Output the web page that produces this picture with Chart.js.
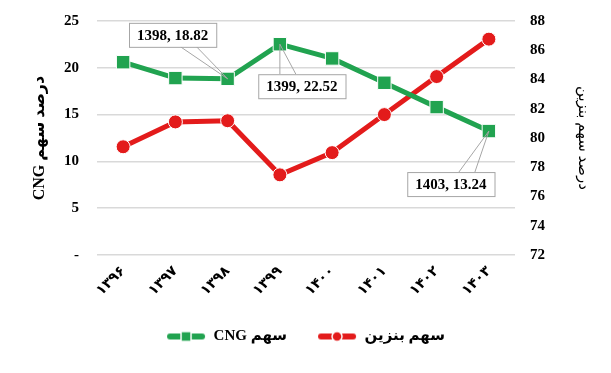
<!DOCTYPE html>
<html>
<head>
<meta charset="utf-8">
<script src="https://cdn.jsdelivr.net/npm/chart.js@4"></script>
<style>
  html, body { margin: 0; padding: 0; background: #fff; }
  #wrap { width: 611px; height: 373px; }
  #chart { direction: rtl; }
</style>
</head>
<body>
<div id="wrap"><canvas id="chart"></canvas></div>
<script>
// data
var years = ['۱۳۹۶', '۱۳۹۷', '۱۳۹۸', '۱۳۹۹', '۱۴۰۰', '۱۴۰۱', '۱۴۰۲', '۱۴۰۳'];
var yearNums = ['1396', '1397', '1398', '1399', '1400', '1401', '1402', '1403'];
var cngShare = [20.6, 18.9, 18.82, 22.52, 21.0, 18.4, 15.8, 13.24];
var benzinShare = [79.4, 81.1, 81.18, 77.48, 79.0, 81.6, 84.2, 86.76];
var calloutIdx = [2, 3, 7]; // points that get a label box

var green = '#21a350';
var red = '#e31b1b';
var serif = "'Liberation Serif', 'Times New Roman', 'DejaVu Sans', serif";

// small picture used as legend marker (line + marker)
function legendIcon(color, shape) {
  var c = document.createElement('canvas');
  c.width = 40; c.height = 14;
  var g = c.getContext('2d');
  g.strokeStyle = color; g.fillStyle = color;
  g.lineWidth = 6; g.lineCap = 'round';
  g.beginPath(); g.moveTo(4, 7); g.lineTo(36, 7); g.stroke();
  g.strokeStyle = '#fff'; g.lineWidth = 1.5;
  if (shape == 'rect') {
    g.fillRect(15, 2, 10, 10); g.strokeRect(15, 2, 10, 10);
  } else {
    g.beginPath(); g.arc(20, 7, 5, 0, Math.PI * 2); g.fill(); g.stroke();
  }
  return c;
}
var icons = [legendIcon(green, 'rect'), legendIcon(red, 'circle')];

// label boxes with a pointer, as in the original
var calloutPlugin = {
  id: 'callouts',
  afterDatasetsDraw: function(chart) {
    var ctx = chart.ctx;
    var meta = chart.getDatasetMeta(0);
    var offsets = [[-55, -44], [22, 42], [-38, 53]];
    ctx.save();
    ctx.direction = 'ltr';
    ctx.font = 'bold 15px ' + serif;
    calloutIdx.forEach(function(idx, k) {
      var p = meta.data[idx];
      var txt = yearNums[idx] + ', ' + cngShare[idx].toFixed(2);
      var w = ctx.measureText(txt).width + 16;
      var h = 24;
      var cx = p.x + offsets[k][0], cy = p.y + offsets[k][1];
      var bx = cx - w / 2, by = cy - h / 2;
      var up = offsets[k][1] > 0; // box below point -> pointer from top edge
      var ey = up ? by : by + h;
      var ex1 = cx + (p.x > cx ? 8 : -22), ex2 = ex1 + 16;
      ctx.strokeStyle = '#a6a6a6'; ctx.lineWidth = 1;
      ctx.beginPath();
      ctx.moveTo(ex1, ey); ctx.lineTo(p.x, p.y); ctx.lineTo(ex2, ey);
      ctx.stroke();
      ctx.fillStyle = '#fff';
      ctx.fillRect(bx, by, w, h);
      ctx.strokeRect(bx + 0.5, by + 0.5, w, h);
      ctx.fillStyle = '#000';
      ctx.textAlign = 'center'; ctx.textBaseline = 'middle';
      ctx.fillText(txt, cx, cy + 1);
    });
    ctx.restore();
  }
};

// fixed axis sizes so the plot area sits where it does in the original
function fixY(w) {
  return function(scale) {
    scale.width = w;
    scale.paddingTop = 0;
    scale.paddingBottom = 0;
  };
}

new Chart(document.getElementById('chart'), {
  type: 'line',
  data: {
    labels: years,
    datasets: [{
      label: 'سهم CNG',
      data: cngShare,
      yAxisID: 'y',
      borderColor: green,
      backgroundColor: green,
      borderWidth: 5,
      pointStyle: 'rect',
      pointRadius: 9.5,
      pointBorderColor: '#fff',
      pointBorderWidth: 1,
      order: 1
    }, {
      label: 'سهم بنزین',
      data: benzinShare,
      yAxisID: 'y1',
      borderColor: red,
      backgroundColor: red,
      borderWidth: 5,
      pointStyle: 'circle',
      pointRadius: 7,
      pointBorderColor: '#fff',
      pointBorderWidth: 1,
      order: 2
    }]
  },
  options: {
    responsive: true,
    maintainAspectRatio: false,
    animation: false,
    layout: { padding: { top: 21, left: 0, right: 0, bottom: 19 } },
    plugins: {
      tooltip: { enabled: false },
      legend: {
        position: 'bottom',
        labels: {
          usePointStyle: true,
          pointStyleWidth: 40,
          padding: 30,
          color: '#000',
          font: { family: serif, size: 15, weight: 'bold' },
          generateLabels: function(chart) {
            return chart.data.datasets.map(function(ds, i) {
              return { text: ds.label, pointStyle: icons[i], datasetIndex: i,
                       fillStyle: ds.borderColor, strokeStyle: ds.borderColor, lineWidth: 0, fontColor: '#000' };
            });
          }
        }
      }
    },
    scales: {
      x: {
        offset: true,
        grid: { display: false, drawTicks: false },
        border: { display: false },
        afterFit: function(scale) { scale.height = 44; },
        ticks: { color: '#000', minRotation: 45, maxRotation: 45, padding: 8,
                 font: { family: serif, size: 14, weight: 'bold' } }
      },
      y: {
        position: 'left',
        min: 0, max: 25,
        grid: { color: '#d9d9d9', lineWidth: 1.5, drawTicks: false },
        border: { display: false },
        afterFit: fixY(97),
        ticks: { stepSize: 5, padding: 18, color: '#000',
                 font: { family: serif, size: 15, weight: 'bold' },
                 callback: function(v) { return v == 0 ? '-' : v; } },
        title: { display: true, text: 'درصد سهم CNG', color: '#000',
                 font: { family: serif, size: 16, weight: 'bold' }, padding: { top: 30, bottom: 0 } }
      },
      y1: {
        position: 'right',
        min: 72, max: 88,
        grid: { display: false, drawTicks: false },
        border: { display: false },
        afterFit: fixY(96),
        ticks: { stepSize: 2, padding: 15, color: '#000',
                 font: { family: serif, size: 15, weight: 'bold' } },
        title: { display: true, text: 'درصد سهم بنزین', color: '#000',
                 font: { family: serif, size: 15, weight: 'normal' }, padding: { top: 19, bottom: 0 } }
      }
    }
  },
  plugins: [calloutPlugin]
});
</script>
</body>
</html>
